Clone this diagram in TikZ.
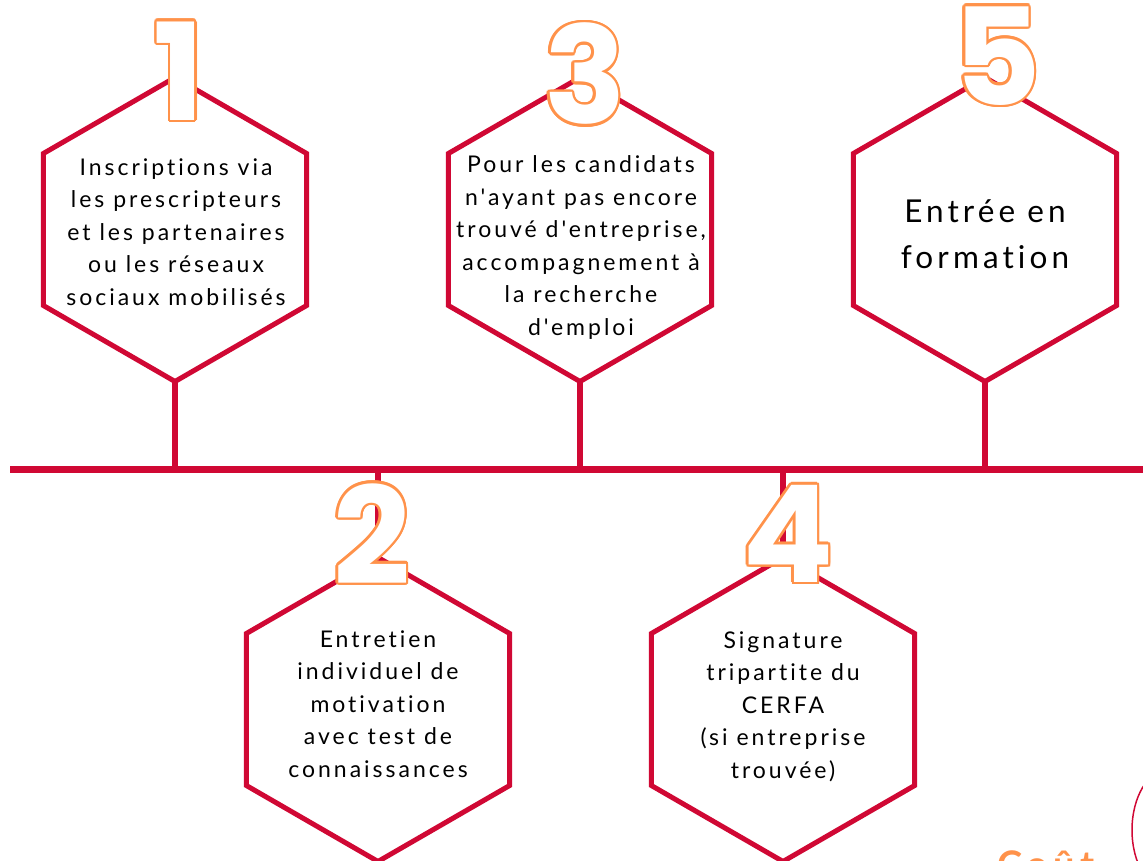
\documentclass[tikz,border=0pt]{standalone}
\usepackage{fontspec}
\newfontfamily\latofont{Lato}[LetterSpace=13, Ligatures=NoCommon]
\newfontfamily\digitfont{Poppins}
\usepackage{xcolor}
\definecolor{carmin}{RGB}{208,8,52}
\definecolor{abricot}{RGB}{255,146,74}
\usepackage{contour}
\contourlength{2.5pt}
\usetikzlibrary{shapes.geometric,backgrounds}

\begin{document}
\begin{tikzpicture}[x=1pt, y=-1pt, line join=miter]
    \tikzstyle{hexa}=[ %
      regular polygon, regular polygon sides=6,
      shape border rotate=90,
      draw=carmin, line width=5pt, fill=white,
%      minimum size=300pt,
      minimum size=304pt,
      inner sep=0, outer sep=0
    ]
    \tikzstyle{etape}=[ %
      anchor=base, align=center,
      inner sep=0, outer sep=0,
      font=\latofont\fontsize{23}{32.5}\selectfont
    ]
    \tikzstyle{chiffre}=[ %
      inner sep=0, text=white,
      font=\digitfont\bfseries\fontsize{135}{135}\selectfont
    ]
    \tikzstyle{trait}=[draw=carmin, line width=7pt]
    \useasboundingbox (0,0) rectangle (1143,861);
    \clip (0,0) rectangle (1143,861);
  %  \draw[help lines] (0,0) grid[step=100] (1143,861);
    \coordinate (axeg) at (10,469);
    \coordinate (axed) at (1143,469);
    \path (175,229.5) node(h1) [hexa] {}
          (580,229.5) node(h3) [hexa] {}
          (985,229.5) node(h5) [hexa] {}
          (378,709.5) node(h2) [hexa] {}
          (783,709.5) node(h4) [hexa] {};
    \begin{scope}[on background layer]
      \draw[trait] (axeg) -- (axed);
      \foreach \h in {h1,h2,h3,h4,h5}
        \draw[trait, line width=6.5pt] (\h.center) -- (\h |- axeg);
    \end{scope}
    % textes des etapes (ancre = ligne de base de la derniere ligne)
    \path (176,305) node(t1) [etape]
                {Inscriptions via\\ les prescripteurs\\ et les partenaires\\
                 ou les réseaux\\ sociaux mobilisés}
          (581,335) node(t3) [etape]
                {Pour les candidats\\ n'ayant pas encore\\ trouvé d'entreprise,\\
                 accompagnement à\\ la recherche\\ d'emploi}
          (985,269) node(t5) [etape, font=\latofont\fontsize{31.5}{46.5}\selectfont]
                {Entrée en\\ formation}
          (378,777) node(t2) [etape]
                {Entretien\\ individuel de\\ motivation\\ avec test de\\ connaissances}
          (783,778) node(t4) [etape]
                {Signature\\ tripartite du\\ CERFA\\ (si entreprise\\ trouvée)};
    % chiffres
    \path (179,72)  node(c1) [chiffre] {\contour{abricot}{1}}
          (372,535) node(c2) [chiffre] {\contour{abricot}{2}}
          (585,75)  node(c3) [chiffre] {\contour{abricot}{3}}
          (788,535) node(c4) [chiffre] {\contour{abricot}{4}}
          (997,57)  node(c5) [chiffre] {\contour{abricot}{5}};
    % bas de page
    \path (997,878) node(cout) [anchor=base west, inner sep=0, text=abricot,
                font=\latofont\bfseries\fontsize{38}{38}\selectfont] {Coût};
    \draw[carmin, line width=1.5pt] (1168,830) ellipse [x radius=36, y radius=60];
\end{tikzpicture}
\end{document}
